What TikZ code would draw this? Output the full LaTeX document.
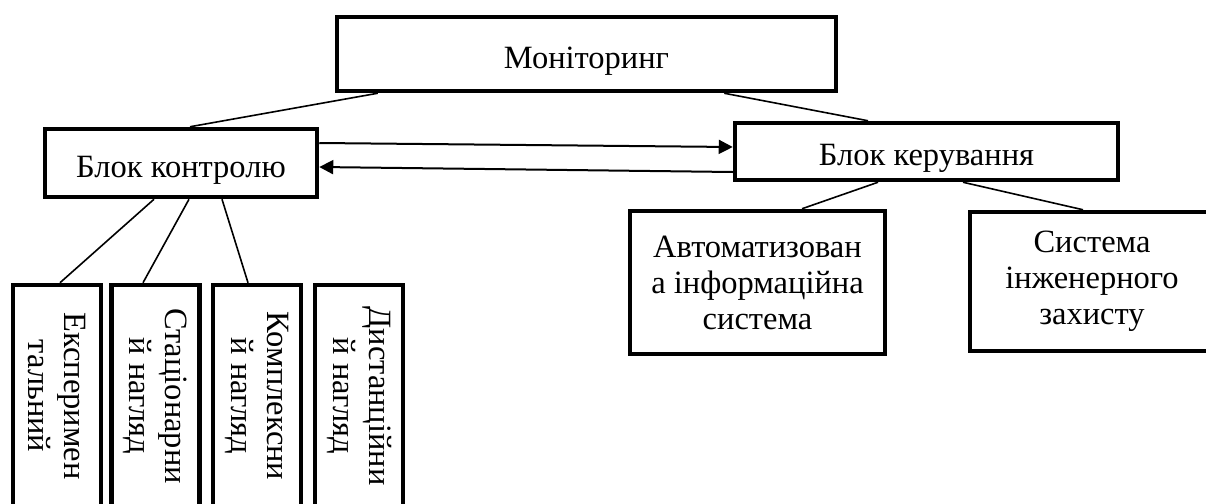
\documentclass[tikz,border=0pt]{standalone}
\usepackage{fontspec}
\setmainfont{Liberation Serif}
\usetikzlibrary{arrows.meta,calc}

\begin{document}
\begin{tikzpicture}[x=1pt,y=-1pt,font=\fontsize{32.5}{36}\selectfont]
    \tikzstyle{block}=[draw,line width=4.5pt,align=center,inner sep=0pt]
    \tikzstyle{line block}=[block,text height=28pt,text depth=0pt]
    \tikzstyle{vblock}=[block,rotate=-90,minimum width=222pt,minimum height=88pt]
    \tikzstyle{link}=[line width=1.6pt]
    \tikzstyle{flow}=[line width=2pt,-{Triangle[length=14pt,width=14pt]}]

    \useasboundingbox (0,0) rectangle (1206,503);
    \clip (0,0) rectangle (1206,503);

    % Draw the top node and the two blocks under it
    \node[line block,minimum width=499pt,minimum height=74pt] (M) at (586.5,54) {Моніторинг};
    \node[line block,minimum width=272pt,minimum height=68pt] (C) at (181,163) {Блок контролю};
    \node[line block,minimum width=383pt,minimum height=57pt] (K) at (926.5,151.5) {Блок керування};

    % Draw the systems under the control block
    \node[block,minimum width=255pt,minimum height=143pt] (A) at (757.5,282.5)
        {Автоматизован\\а інформаційна\\система};
    \node[block,minimum width=244pt,minimum height=139pt] (S) at (1092,281.5)
        {Система\\інженерного\\захисту};

    % Draw the four kinds of observation (turned on their side)
    \foreach \name / \x / \txt in {1/57/{Експеримен\\тальний},
                                   2/155.5/{Стаціонарни\\й нагляд},
                                   3/257/{Комплексни\\й нагляд},
                                   4/359/{Дистанційни\\й нагляд}}
        \node[vblock] (V-\name) at (\x,396) {\txt};

    % Connect the top node with both blocks
    \draw[link] ($(M.south west)+(43,0)$) -- ($(C.north)+(9,0)$);
    \draw[link] ($(M.south east)+(-114,0)$) -- ($(K.north)+(-58.5,0)$);

    % Arrows between the two blocks
    \draw[flow] ($(C.east)+(0,-20)$) -- ($(K.west)+(0,-4.5)$);
    \draw[flow] ($(K.west)+(0,20.5)$) -- ($(C.east)+(0,4)$);

    % Connect the control block with the first three kinds
    \draw[link] ($(C.south)+(-27,0)$) -- ($(V-1.west)+(3,0)$);
    \draw[link] ($(C.south)+(8,0)$) -- ($(V-2.west)+(-12.5,0)$);
    \draw[link] ($(C.south)+(41,0)$) -- ($(V-3.west)+(-9,0)$);

    % Connect the management block with the two systems
    \draw[link] ($(K.south)+(-48.5,0)$) -- ($(A.north)+(44.5,0)$);
    \draw[link] ($(K.south)+(36.5,0)$) -- ($(S.north)+(-9,0)$);
\end{tikzpicture}
\end{document}
